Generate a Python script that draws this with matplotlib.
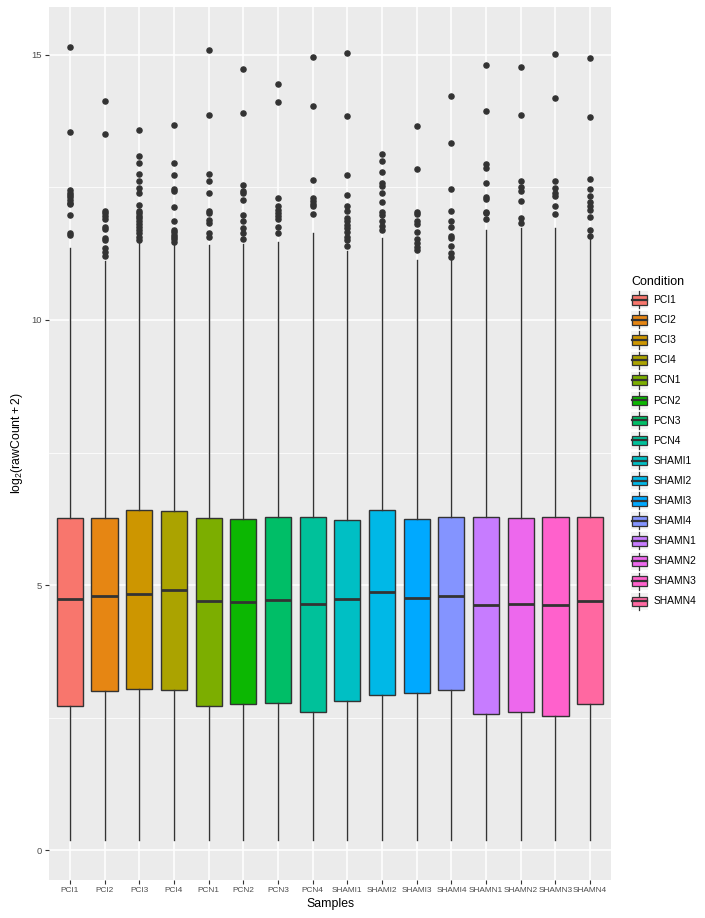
"""
Boxplot of log2 raw counts per sample, ggplot look
"""

import matplotlib
matplotlib.use('Agg')
import matplotlib.pyplot as plt
from matplotlib.legend_handler import HandlerBase
from matplotlib.lines import Line2D
from matplotlib.patches import Patch, Rectangle

plt.rcParams['font.family'] = ['Liberation Sans', 'DejaVu Sans']
plt.rcParams['mathtext.fontset'] = 'custom'
plt.rcParams['mathtext.rm'] = 'Liberation Sans'
plt.rcParams['mathtext.it'] = 'Liberation Sans'

samples = ['PCI1', 'PCI2', 'PCI3', 'PCI4', 'PCN1', 'PCN2', 'PCN3', 'PCN4',
           'SHAMI1', 'SHAMI2', 'SHAMI3', 'SHAMI4', 'SHAMN1', 'SHAMN2', 'SHAMN3', 'SHAMN4']

colors = ['#F8766D', '#E68613', '#CD9600', '#ABA300', '#7CAE00', '#0CB702', '#00BE67', '#00C19A',
          '#00BFC4', '#00B8E7', '#00A9FF', '#8494FF', '#C77CFF', '#ED68ED', '#FF61CC', '#FF68A1']

whis_low = [0.19, 0.19, 0.19, 0.19, 0.19, 0.19, 0.19, 0.19,
            0.19, 0.19, 0.19, 0.19, 0.19, 0.19, 0.19, 0.19]
q1 = [2.72, 3.01, 3.04, 3.03, 2.72, 2.76, 2.77, 2.60,
      2.82, 2.93, 2.96, 3.03, 2.57, 2.61, 2.54, 2.75]
medians = [4.73, 4.79, 4.84, 4.90, 4.70, 4.68, 4.71, 4.65,
           4.74, 4.87, 4.75, 4.80, 4.63, 4.65, 4.63, 4.70]
q3 = [6.26, 6.27, 6.42, 6.40, 6.26, 6.25, 6.28, 6.28,
      6.23, 6.41, 6.25, 6.28, 6.28, 6.27, 6.28, 6.28]
whis_high = [11.35, 11.11, 11.48, 11.43, 11.41, 11.43, 11.47, 11.63,
             11.30, 11.54, 11.13, 11.14, 11.70, 11.74, 11.74, 11.52]

outliers = [
    [15.15, 13.55, 12.45, 12.40, 12.36, 12.31, 12.26, 12.21, 12.18, 11.98, 11.64, 11.60],
    [14.13, 13.50, 12.06, 12.01, 11.96, 11.91, 11.76, 11.71, 11.55, 11.51, 11.35, 11.29, 11.21],
    [13.59, 13.10, 12.95, 12.75, 12.62, 12.48, 12.40, 12.16, 12.06, 12.01, 11.96, 11.92,
     11.87, 11.81, 11.76, 11.70, 11.64, 11.57, 11.51],
    [13.67, 12.95, 12.74, 12.47, 12.44, 12.12, 11.86, 11.70, 11.65, 11.60, 11.56, 11.52, 11.47],
    [15.09, 13.87, 12.75, 12.61, 12.40, 12.06, 12.01, 11.89, 11.82, 11.64, 11.57],
    [14.73, 13.90, 12.54, 12.43, 12.39, 12.26, 11.98, 11.86, 11.73, 11.64, 11.52],
    [14.45, 14.11, 12.29, 12.14, 12.08, 12.01, 11.96, 11.90, 11.76, 11.64],
    [14.96, 14.04, 12.64, 12.29, 12.25, 12.19, 12.15, 12.00],
    [15.04, 13.84, 12.74, 12.35, 12.14, 12.05, 11.92, 11.86, 11.79, 11.73, 11.65, 11.57, 11.51, 11.40],
    [13.13, 13.00, 12.79, 12.59, 12.52, 12.40, 12.22, 12.04, 11.98, 11.86, 11.77, 11.70],
    [13.65, 12.84, 12.04, 11.99, 11.87, 11.81, 11.65, 11.52, 11.45, 11.38, 11.32],
    [14.22, 13.33, 12.46, 12.06, 11.86, 11.75, 11.59, 11.54, 11.40, 11.26, 11.18],
    [14.81, 13.94, 12.94, 12.86, 12.59, 12.31, 12.28, 12.04, 12.01, 11.90],
    [14.77, 13.86, 12.61, 12.50, 12.44, 12.25, 11.93, 11.82],
    [15.02, 14.18, 12.62, 12.48, 12.40, 12.33, 12.14, 11.99],
    [14.93, 13.83, 12.66, 12.47, 12.33, 12.23, 12.14, 12.07, 11.94, 11.69, 11.59],
]

yticks = [0, 5, 10, 15]
yminor = [2.5, 7.5, 12.5]

GREY20 = '#333333'
GREY30 = '#4D4D4D'
PANEL = '#EBEBEB'


class BoxKey(HandlerBase):
    # little boxplot glyph like the ggplot legend key
    def create_artists(self, legend, orig_handle, xdescent, ydescent, width, height, fontsize, trans):
        x0, y0 = -xdescent, -ydescent
        bg = Rectangle((x0, y0), width, height, facecolor='#F2F2F2', edgecolor='none', transform=trans)
        cx = x0 + width / 2
        whisk = Line2D([cx, cx], [y0, y0 + height], color=GREY20, lw=0.9, transform=trans)
        box = Rectangle((x0 + 0.05 * width, y0 + 0.22 * height), 0.9 * width, 0.56 * height,
                        facecolor=orig_handle.get_facecolor(), edgecolor=GREY20, lw=0.9, transform=trans)
        med = Line2D([x0 + 0.05 * width, x0 + 0.95 * width], [y0 + height / 2, y0 + height / 2],
                     color=GREY20, lw=1.6, transform=trans)
        return [bg, whisk, box, med]


fig = plt.figure(figsize=(7.05, 9.18), dpi=100)
ax = fig.add_axes([49 / 705, 1 - 880 / 918, (611 - 49) / 705, (880 - 7) / 918])
ax.set_facecolor(PANEL)
for s in ax.spines.values():
    s.set_visible(False)

positions = list(range(1, len(samples) + 1))

# grid first, under the boxes
for y in yticks:
    ax.axhline(y, color='white', lw=1.1, zorder=0)
for y in yminor:
    ax.axhline(y, color='white', lw=0.55, zorder=0)
for x in positions:
    ax.axvline(x, color='white', lw=1.1, zorder=0)

stats = []
for i, s in enumerate(samples):
    stats.append(dict(label=s, whislo=whis_low[i], q1=q1[i], med=medians[i], q3=q3[i],
                      whishi=whis_high[i], fliers=outliers[i]))

bp = ax.bxp(stats, positions=positions, widths=0.75, patch_artist=True, showcaps=False,
            boxprops=dict(edgecolor=GREY20, linewidth=1.0),
            whiskerprops=dict(color=GREY20, linewidth=1.0),
            medianprops=dict(color=GREY20, linewidth=2.0, solid_capstyle='butt'),
            flierprops=dict(marker='o', markerfacecolor=GREY20, markeredgecolor=GREY20,
                            markersize=3.7, linestyle='none'))
for patch, c in zip(bp['boxes'], colors):
    patch.set_facecolor(c)

ax.set_xlim(0.4, 16.6)
ax.set_ylim(-0.56, 15.9)
ax.set_xticks(positions)
ax.set_xticklabels(samples)
ax.set_yticks(yticks)
ax.set_yticklabels([str(t) for t in yticks])
ax.tick_params(axis='both', color=GREY20, length=3, width=0.8, labelcolor=GREY30)
ax.tick_params(axis='x', labelsize=5.95, pad=2)
ax.tick_params(axis='y', labelsize=6.8, pad=2)

ax.set_xlabel('Samples', fontsize=8.8, labelpad=3)
ax.set_ylabel(r'$\mathregular{log_2(rawCount+2)}$', fontsize=8.8, labelpad=5)

handles = [Patch(facecolor=c, label=s) for s, c in zip(samples, colors)]
leg = fig.legend(handles=handles, handler_map={Patch: BoxKey()}, loc='center left',
                 bbox_to_anchor=(631 / 705, 1 - 443 / 918), frameon=False,
                 title='Condition', title_fontsize=9, fontsize=7.4, alignment='left',
                 handlelength=1.65, handleheight=2.17, labelspacing=0.3, handletextpad=0.5,
                 borderpad=0, borderaxespad=0)

fig.savefig('out.png', dpi=100)
